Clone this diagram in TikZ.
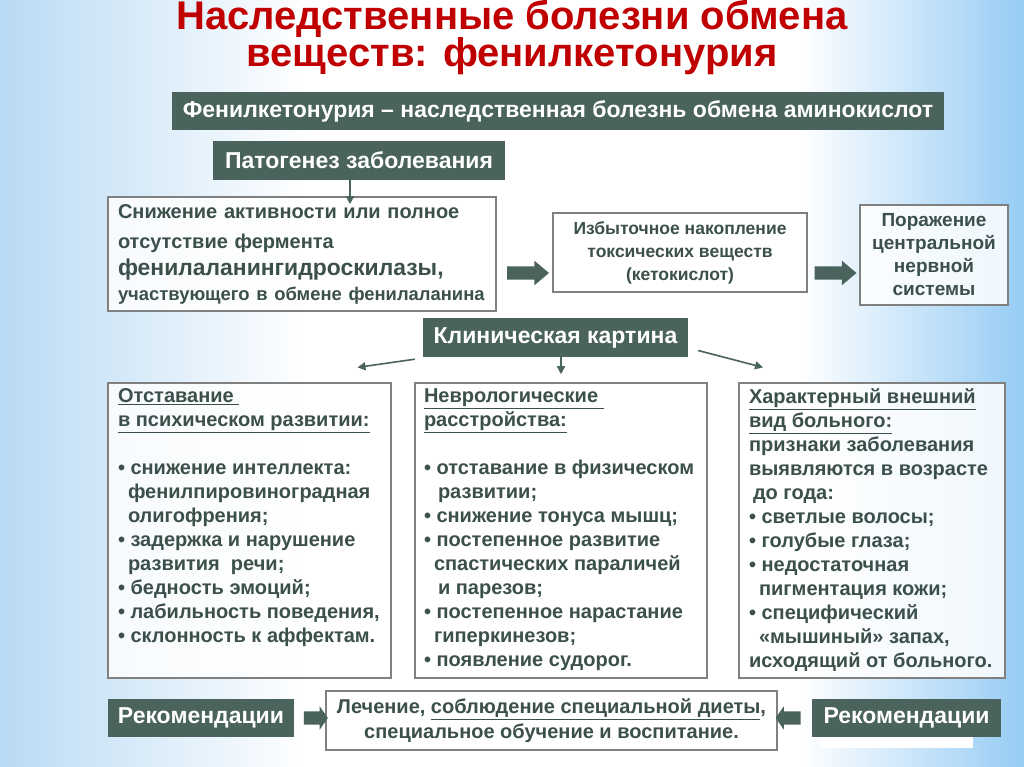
\documentclass[tikz,border=0pt]{standalone}
\usepackage{fontspec}
\setmainfont{Liberation Sans}
\usetikzlibrary{arrows.meta,positioning,shapes.arrows,calc}

\definecolor{slate}{RGB}{74,99,92}
\definecolor{inkgray}{RGB}{60,80,75}
\definecolor{titlered}{RGB}{192,0,0}
\definecolor{framegray}{RGB}{128,128,128}
\definecolor{bgleft}{RGB}{185,218,244}
\definecolor{bgright}{RGB}{150,204,244}
\pgfdeclarehorizontalshading{slidebg}{100bp}{color(0bp)=(bgleft); color(25bp)=(bgleft);
  color(40bp)=(white); color(64bp)=(white); color(75bp)=(bgright); color(100bp)=(bgright)}

\tikzset{
  darkbox/.style={rectangle,fill=slate,text=white,inner sep=0pt,
    font=\bfseries\fontsize{23}{26}\selectfont},
  textbox/.style={rectangle,draw=framegray,line width=1.2pt,fill=white,
    fill opacity=0.85,text opacity=1,text=inkgray,inner sep=0pt,
    font=\bfseries\fontsize{20}{24}\selectfont},
  listbox/.style={textbox,inner xsep=10pt,inner ysep=6pt},
  blockarrow/.style={single arrow,fill=slate,inner xsep=0pt,inner ysep=6.5pt,
    minimum height=42pt,single arrow head extend=5.5pt,
    single arrow tip angle=80},
  thinarrow/.style={-{Triangle[length=8pt,width=8pt]},line width=1.6pt,draw=slate}
}

\begin{document}
\begin{tikzpicture}[x=1pt,y=-1pt]
  % background
  \useasboundingbox (0,0) rectangle (1024,767);
  \shade[shading=slidebg] (0,0) rectangle (1024,767);

  % title
  \node[text=titlered,align=center,inner sep=0pt,
    font=\bfseries\fontsize{40}{37}\selectfont,anchor=base]
    (title) at (512,67) {Наследственные болезни обмена\\веществ: фенилкетонурия};

  % pathogenesis
  \node[darkbox,minimum width=772pt,minimum height=38pt] (defn) at (558,111)
    {Фенилкетонурия – наследственная болезнь обмена аминокислот};
  \node[darkbox,minimum width=292pt,minimum height=39pt] (patho) at (359,160.5)
    {Патогенез заболевания};

  \node[textbox,minimum width=388pt,minimum height=114pt,align=left,
    text width=368pt,font=\bfseries\fontsize{20}{26}\selectfont] (cause) at (302,254)
    {Снижение активности или полное\\[4pt]
     отсутствие фермента\\[1pt]
     {\fontsize{22.9}{26}\selectfont фенилаланингидроскилазы,}\\[-1pt]
     {\fontsize{18.4}{22}\selectfont участвующего в обмене фенилаланина}};
  \node[textbox,minimum width=254pt,minimum height=79pt,align=center,
    font=\bfseries\fontsize{17.5}{23}\selectfont] (accum) at (680,252.5)
    {Избыточное накопление\\токсических веществ\\(кетокислот)};
  \node[textbox,minimum width=148pt,minimum height=100pt,align=center,
    font=\bfseries\fontsize{19}{23}\selectfont] (cns)
    at (934,255) {Поражение\\центральной\\нервной\\системы};

  \node[blockarrow] (arrA) at (524,273) {};
  \node[blockarrow] (arrB) at (831.5,273) {};

  \draw[thinarrow] ($(patho.south)+(-9,0)$) -- ++(0,24);

  % clinical picture
  \node[darkbox,minimum width=265pt,minimum height=39pt] (clinic)
    at (555.5,337.5) {Клиническая картина};

  \node[listbox] (mental) at (249.5,530.5)
    {\parbox[c][283pt][t]{263pt}{\raggedright
     \underline{Отставание\ }\\
     \underline{в психическом развитии:}\\[24pt]
     • снижение интеллекта:\\
     \hspace*{10pt}фенилпировиноградная\\
     \hspace*{10pt}олигофрения;\\
     • задержка и нарушение\\
     \hspace*{10pt}развития\ \ речи;\\
     • бедность эмоций;\\
     • лабильность поведения,\\
     • склонность к аффектам.}};
  \node[listbox,inner xsep=9pt] (neuro) at (561,530.5)
    {\parbox[c][283pt][t]{274pt}{\raggedright
     \underline{Неврологические\ }\\
     \underline{расстройства:}\\[24pt]
     • отставание в физическом\\
     \hspace*{14pt}развитии;\\
     • снижение тонуса мышц;\\
     • постепенное развитие\\
     \hspace*{10pt}спастических параличей\\
     \hspace*{14pt}и парезов;\\
     • постепенное нарастание\\
     \hspace*{10pt}гиперкинезов;\\
     • появление судорог.}};
  \node[listbox] (appear) at (872,530.5)
    {\parbox[c][283pt][t]{246pt}{\raggedright
     \underline{Характерный внешний}\\
     \underline{вид больного:}\\
     признаки заболевания\\
     выявляются в возрасте\\
     \hspace*{4pt}до года:\\
     • светлые волосы;\\
     • голубые глаза;\\
     • недостаточная\\
     \hspace*{10pt}пигментация кожи;\\
     • специфический\\
     \hspace*{10pt}«мышиный» запах,\\
     исходящий от больного.}};

  \draw[thinarrow] ($(clinic.south west)+(-8,2)$) -- ($(mental.north)+(108,-15)$);
  \draw[thinarrow] (neuro.north |- clinic.south) -- ++(0,17);
  \draw[thinarrow] ($(clinic.east)+(10,13)$) -- ($(appear.north)+(-109,-15)$);

  % recommendations
  \node[darkbox,minimum width=186pt,minimum height=38pt] (recL) at (201,718)
    {Рекомендации};
  \node[darkbox,minimum width=189pt,minimum height=38pt] (recR) at (906.5,718)
    {Рекомендации};
  \fill[white] (recR.south west) ++(8,0) rectangle ++(153,11);
  \node[textbox,minimum width=451pt,minimum height=59pt,align=center,
    font=\bfseries\fontsize{20}{25}\selectfont] (therapy) at (551.5,720.5)
    {Лечение, \underline{соблюдение специальной диеты},\\
     специальное обучение и воспитание.};
  \node[blockarrow,minimum height=24pt,single arrow head extend=5pt,
    single arrow tip angle=110] (arrC) at (313.5,718) {};
  \node[blockarrow,minimum height=25pt,single arrow head extend=5pt,
    single arrow tip angle=110,shape border rotate=180] (arrD) at (790.5,718) {};
\end{tikzpicture}
\end{document}
